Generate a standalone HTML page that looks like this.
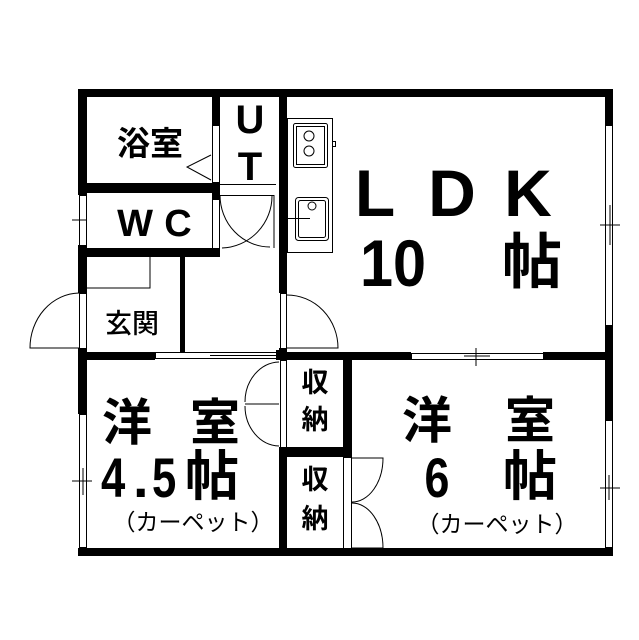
<!DOCTYPE html>
<html><head><meta charset="utf-8"><style>
html,body{margin:0;padding:0;background:#fff;}
svg{display:block;}
.j{font-family:"Liberation Sans","Noto Sans CJK JP",sans-serif;font-weight:bold;fill:#000;}
.m{font-family:"Liberation Sans","Noto Sans CJK JP",sans-serif;fill:#000;font-weight:normal;}
</style></head><body>
<svg width="639" height="640" viewBox="0 0 639 640" xmlns="http://www.w3.org/2000/svg">
<g fill="#000">
<rect x="78" y="89" width="535" height="8"/>
<rect x="78" y="548" width="535" height="8"/>
<rect x="78" y="89" width="9" height="106"/>
<rect x="78" y="245" width="9" height="48"/>
<rect x="78" y="348" width="9" height="66"/>
<rect x="605" y="89" width="8" height="36"/>
<rect x="605" y="325" width="8" height="95"/>
<rect x="212" y="89" width="8" height="36"/>
<rect x="78" y="183" width="142" height="10"/>
<rect x="212" y="183" width="8" height="17"/>
<rect x="78" y="248" width="142" height="9"/>
<rect x="180" y="257" width="5" height="95"/>
<rect x="279" y="89" width="8" height="204"/>
<rect x="279" y="348" width="8" height="12"/>
<rect x="78" y="352" width="77" height="8"/>
<rect x="276" y="350" width="11" height="10"/>
<rect x="287" y="352" width="124" height="8"/>
<rect x="543" y="352" width="70" height="8"/>
<rect x="343" y="352" width="9" height="105"/>
<rect x="279" y="447" width="73" height="10"/>
<rect x="279" y="447" width="8" height="109"/>
</g>
<g fill="none" stroke="#000" stroke-width="1">
<rect x="212.5" y="125.5" width="7" height="57"/>
<polyline points="211,155 187,167 211,180"/>
<line x1="220" y1="184.5" x2="276" y2="184.5"/>
<rect x="212.5" y="193.5" width="7" height="55"/>
<line x1="220" y1="195.5" x2="274" y2="195.5"/>
<path d="M274 195 L274 248"/>
<path d="M220 195 A50 52 0 0 0 270 247"/>
<path d="M272 196 A52 52 0 0 1 222 248"/>
<rect x="79.5" y="195.5" width="7" height="50"/>
<line x1="72" y1="220" x2="87" y2="220"/>
<polyline points="87,288 150,288 150,257"/>
<rect x="79.5" y="293.5" width="7" height="55"/>
<path d="M79 293 A50 55 0 0 0 30 348 L79 348"/>
<rect x="155.5" y="352.5" width="121" height="6"/>
<line x1="210" y1="355.5" x2="276" y2="355.5"/>
<rect x="280.5" y="293.5" width="6" height="55"/>
<path d="M287 295 A51 53 0 0 1 338 348 L287 348"/>
<rect x="287.5" y="118.5" width="45" height="134"/>
<rect x="293.5" y="123.5" width="34" height="44" rx="2"/>
<rect x="296.5" y="126.5" width="28" height="38"/>
<circle cx="309" cy="136" r="5"/>
<circle cx="309" cy="151" r="5"/>
<rect x="332.5" y="141.5" width="3" height="5"/>
<rect x="295.5" y="197.5" width="33" height="43" rx="3"/>
<rect x="298.5" y="200.5" width="27" height="37" rx="2"/>
<circle cx="312" cy="206" r="4"/>
<line x1="288" y1="218.5" x2="310" y2="218.5"/>
<rect x="605.5" y="125.5" width="7" height="200"/>
<line x1="600" y1="225" x2="620" y2="225"/>
<line x1="610" y1="205" x2="610" y2="245"/>
<rect x="411.5" y="353.5" width="132" height="6"/>
<line x1="464" y1="356" x2="490" y2="356"/>
<line x1="476" y1="348" x2="476" y2="366"/>
<rect x="79.5" y="414.5" width="7" height="133"/>
<line x1="72" y1="481" x2="92" y2="481"/>
<line x1="83" y1="468" x2="83" y2="495"/>
<rect x="605.5" y="420.5" width="7" height="127"/>
<line x1="600" y1="488" x2="620" y2="488"/>
<line x1="609" y1="475" x2="609" y2="500"/>
<rect x="280.5" y="360.5" width="6" height="87"/>
<path d="M279 362 A35 40 0 0 0 245 402"/>
<path d="M279 446 A35 40 0 0 1 245 406"/>
<path d="M245 404 L279 404"/>
<rect x="343.5" y="457.5" width="8" height="91"/>
<path d="M352 458 L383 458 A31 44 0 0 1 352 502"/>
<path d="M352 548 L383 548 A31 45 0 0 0 352 503"/>
</g>
<text class="j" x="150" y="155" font-size="33" text-anchor="middle">浴室</text>
<text class="j" x="250" y="133" font-size="40" text-anchor="middle">U</text>
<text class="j" x="250" y="180" font-size="40" text-anchor="middle">T</text>
<text class="j" x="135" y="236" font-size="38" text-anchor="middle">W</text>
<text class="j" x="178" y="236" font-size="38" text-anchor="middle">C</text>
<text class="j" x="132" y="333" font-size="27" text-anchor="middle" style="font-weight:500">玄関</text>
<text class="j" x="375" y="216" font-size="66" text-anchor="middle">L</text>
<text class="j" x="452" y="216" font-size="66" text-anchor="middle">D</text>
<text class="j" x="528" y="216" font-size="66" text-anchor="middle">K</text>
<text class="j" x="360" y="286" font-size="66" transform="translate(360 286) scale(0.9 1) translate(-360 -286)">10</text>
<text class="j" x="532" y="283" font-size="60" text-anchor="middle">帖</text>
<text class="j" x="127" y="440" font-size="50" text-anchor="middle">洋</text>
<text class="j" x="215" y="440" font-size="50" text-anchor="middle">室</text>
<text class="j" x="101" y="497" font-size="56" transform="translate(101 497) scale(0.78 1) translate(-101 -497)">4</text>
<text class="j" x="133" y="497" font-size="56">.</text>
<text class="j" x="152" y="497" font-size="56" transform="translate(152 497) scale(0.78 1) translate(-152 -497)">5</text>
<text class="j" x="212" y="495" font-size="54" text-anchor="middle">帖</text>
<text class="m" x="193" y="530" font-size="23" text-anchor="middle">（カーペット）</text>
<text class="j" x="427" y="438" font-size="50" text-anchor="middle">洋</text>
<text class="j" x="530" y="438" font-size="50" text-anchor="middle">室</text>
<text class="j" x="437" y="497" font-size="56" text-anchor="middle" transform="translate(437 497) scale(0.8 1) translate(-437 -497)">6</text>
<text class="j" x="530" y="495" font-size="54" text-anchor="middle">帖</text>
<text class="m" x="497" y="532" font-size="23" text-anchor="middle">（カーペット）</text>
<text class="j" x="315" y="392" font-size="27" text-anchor="middle">収</text>
<text class="j" x="315" y="429" font-size="27" text-anchor="middle">納</text>
<text class="j" x="315" y="489" font-size="27" text-anchor="middle">収</text>
<text class="j" x="315" y="528" font-size="27" text-anchor="middle">納</text>
</svg>
</body></html>
